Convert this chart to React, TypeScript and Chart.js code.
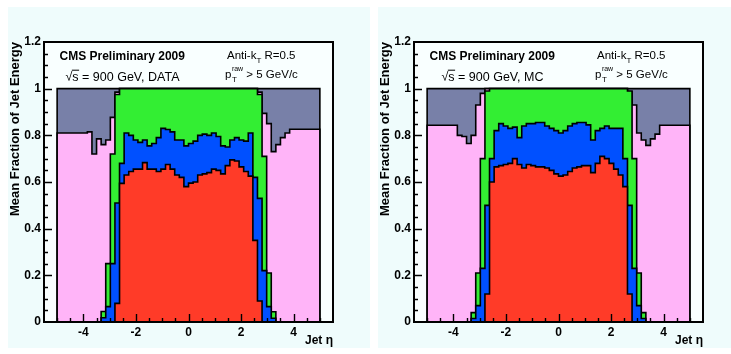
import React, { useEffect, useRef } from "react";
import { Chart, registerables } from "chart.js";

Chart.register(...registerables);

// ---------- data ----------
// jet eta bin edges (46 bins)
const etaEdges = [
  -5, -3.85, -3.675, -3.5, -3.325, -3.15, -2.975, -2.8, -2.625, -2.45, -2.275, -2.1,
  -1.925, -1.75, -1.575, -1.4, -1.225, -1.05, -0.875, -0.7, -0.525, -0.35, -0.175, 0,
  0.175, 0.35, 0.525, 0.7, 0.875, 1.05, 1.225, 1.4, 1.575, 1.75, 1.925, 2.1, 2.275,
  2.45, 2.625, 2.8, 2.975, 3.15, 3.325, 3.5, 3.675, 3.85, 5,
];

// Stacked histogram: upper edge of each layer (cumulative fraction), per bin
// DATA panel
const dataRedTop = [
  0, 0, 0, 0, 0, 0, 0, 0.08, 0.594, 0.63,
  0.645, 0.655, 0.655, 0.683, 0.655, 0.655, 0.645, 0.655, 0.675, 0.655,
  0.63, 0.62, 0.58, 0.595, 0.6, 0.63, 0.635, 0.64, 0.655, 0.65,
  0.635, 0.67, 0.695, 0.69, 0.665, 0.645, 0.625, 0.35, 0.09, 0,
  0, 0, 0, 0, 0, 0,
];
const dataBlueTop = [
  0, 0, 0, 0, 0.018, 0.066, 0.25, 0.51, 0.68, 0.81,
  0.8, 0.78, 0.77, 0.78, 0.755, 0.765, 0.79, 0.83, 0.825, 0.815,
  0.78, 0.78, 0.755, 0.765, 0.775, 0.8, 0.805, 0.8, 0.81, 0.795,
  0.755, 0.75, 0.78, 0.79, 0.78, 0.775, 0.81, 0.62, 0.53, 0.22,
  0.066, 0.016, 0, 0, 0, 0,
];
const dataGreenTop = [
  0, 0, 0, 0, 0.045, 0.25, 0.72, 0.975, 1, 1,
  1, 1, 1, 1, 1, 1, 1, 1, 1, 1,
  1, 1, 1, 1, 1, 1, 1, 1, 1, 1,
  1, 1, 1, 1, 1, 1, 1, 1, 0.975, 0.71,
  0.21, 0.044, 0, 0, 0, 0,
];
const dataPinkTop = [
  0.81, 0.815, 0.72, 0.785, 0.76, 0.78, 0.877, 0.985, 1, 1,
  1, 1, 1, 1, 1, 1, 1, 1, 1, 1,
  1, 1, 1, 1, 1, 1, 1, 1, 1, 1,
  1, 1, 1, 1, 1, 1, 1, 1, 0.985, 0.894,
  0.85, 0.73, 0.76, 0.79, 0.81, 0.826,
];
const dataGrayTop = [
  1, 1, 1, 1, 1, 1, 1, 1, 1, 1,
  1, 1, 1, 1, 1, 1, 1, 1, 1, 1,
  1, 1, 1, 1, 1, 1, 1, 1, 1, 1,
  1, 1, 1, 1, 1, 1, 1, 1, 1, 1,
  1, 1, 1, 1, 1, 1,
];

// MC panel
const mcRedTop = [
  0, 0, 0, 0, 0, 0, 0, 0.12, 0.6, 0.665,
  0.67, 0.675, 0.68, 0.7, 0.675, 0.66, 0.675, 0.67, 0.665, 0.665,
  0.66, 0.65, 0.635, 0.625, 0.63, 0.645, 0.66, 0.665, 0.67, 0.67,
  0.64, 0.68, 0.71, 0.7, 0.68, 0.655, 0.63, 0.58, 0.12, 0,
  0, 0, 0, 0, 0, 0,
];
const mcBlueTop = [
  0, 0, 0, 0, 0.015, 0.07, 0.23, 0.5, 0.7, 0.82,
  0.85, 0.84, 0.83, 0.835, 0.79, 0.84, 0.85, 0.85, 0.855, 0.855,
  0.84, 0.83, 0.82, 0.81, 0.82, 0.84, 0.85, 0.855, 0.855, 0.845,
  0.78, 0.82, 0.83, 0.84, 0.83, 0.83, 0.83, 0.7, 0.5, 0.23,
  0.07, 0.015, 0, 0, 0, 0,
];
const mcGreenTop = [
  0, 0, 0, 0, 0.04, 0.21, 0.7, 0.99, 1, 1,
  1, 1, 1, 1, 1, 1, 1, 1, 1, 1,
  1, 1, 1, 1, 1, 1, 1, 1, 1, 1,
  1, 1, 1, 1, 1, 1, 1, 1, 0.99, 0.7,
  0.21, 0.04, 0, 0, 0, 0,
];
const mcPinkTop = [
  0.843, 0.8, 0.795, 0.765, 0.8, 0.93, 0.98, 1, 1, 1,
  1, 1, 1, 1, 1, 1, 1, 1, 1, 1,
  1, 1, 1, 1, 1, 1, 1, 1, 1, 1,
  1, 1, 1, 1, 1, 1, 1, 1, 0.985, 0.93,
  0.81, 0.78, 0.757, 0.785, 0.805, 0.843,
];
const mcGrayTop = [
  1, 1, 1, 1, 1, 1, 1, 1, 1, 1,
  1, 1, 1, 1, 1, 1, 1, 1, 1, 1,
  1, 1, 1, 1, 1, 1, 1, 1, 1, 1,
  1, 1, 1, 1, 1, 1, 1, 1, 1, 1,
  1, 1, 1, 1, 1, 1,
];

// axis ticks
const xLabelTicks = [-4, -2, 0, 2, 4];
const xTickMarks = [-5, -4.5, -4, -3.5, -3, -2.5, -2, -1.5, -1, -0.5, 0, 0.5, 1, 1.5, 2, 2.5, 3, 3.5, 4, 4.5, 5];
const yLabelTicks = [0, 0.2, 0.4, 0.6, 0.8, 1, 1.2];
const yTickMarks = [
  0.05, 0.1, 0.15, 0.2, 0.25, 0.3, 0.35, 0.4, 0.45, 0.5, 0.55, 0.6,
  0.65, 0.7, 0.75, 0.8, 0.85, 0.9, 0.95, 1, 1.05, 1.1, 1.15,
];

// ---------- style ----------
const FONT = '"Liberation Sans", Arial, Helvetica, sans-serif';
const PANEL_W = 362;
const PANEL_H = 341;
const PANEL_BG = "#effcfc";
const FRAME_BG = "#f9ffff";
const COLORS = {
  red: "#ff3b28",
  blue: "#0050ff",
  green: "#33ee33",
  pink: "#ffb4f8",
  gray: "#7880a8",
};

Chart.defaults.font.family = FONT;

function histPoints(values: number[]) {
  const pts = [{ x: etaEdges[0], y: 0 }];
  values.forEach((v, i) => pts.push({ x: etaEdges[i], y: v }));
  pts.push({ x: etaEdges[etaEdges.length - 1], y: 0 });
  return pts;
}

function layer(label: string, values: number[], color: string) {
  return {
    label,
    data: histPoints(values),
    stepped: "before" as const,
    fill: "origin",
    backgroundColor: color,
    borderColor: "#000",
    borderWidth: 1.6,
    pointRadius: 0,
    pointHoverRadius: 0,
    tension: 0,
  };
}

const rootFrame = {
  id: "rootFrame",
  beforeDatasetsDraw(chart: any) {
    const { ctx, chartArea: a } = chart;
    ctx.save();
    ctx.fillStyle = FRAME_BG;
    ctx.fillRect(a.left, a.top, a.right - a.left, a.bottom - a.top);
    ctx.restore();
  },
  afterDatasetsDraw(chart: any, _args: any, opts: any) {
    const { ctx, chartArea: a, scales } = chart;
    const xs = scales.x;
    const ys = scales.y;
    ctx.save();
    ctx.strokeStyle = "#000";
    ctx.lineWidth = 1.4;
    ctx.beginPath();
    xTickMarks.forEach((v) => {
      const px = Math.round(xs.getPixelForValue(v)) + 0.5;
      const len = xLabelTicks.includes(v) ? 8 : 4;
      ctx.moveTo(px, a.bottom);
      ctx.lineTo(px, a.bottom - len);
    });
    yTickMarks.forEach((v) => {
      const py = Math.round(ys.getPixelForValue(v)) + 0.5;
      const major = Math.abs(v * 5 - Math.round(v * 5)) < 1e-6;
      const len = major ? 8 : 4;
      ctx.moveTo(a.left, py);
      ctx.lineTo(a.left + len, py);
    });
    ctx.stroke();
    ctx.lineWidth = 2;
    ctx.strokeRect(a.left, a.top, a.right - a.left, a.bottom - a.top);

    // annotations
    ctx.fillStyle = "#000";
    ctx.textAlign = "left";
    ctx.textBaseline = "alphabetic";
    ctx.font = `bold 12px ${FONT}`;
    ctx.fillText("CMS Preliminary 2009", 51.5, 52.5);

    // sqrt(s) line
    let x = opts.sqrtLeft;
    const base = 73.7;
    ctx.font = `12.5px ${FONT}`;
    ctx.fillText("\u221A", x, base);
    const mRad = ctx.measureText("\u221A");
    const radTop = base - (mRad.actualBoundingBoxAscent || 10);
    x += mRad.width;
    ctx.fillText("s", x, base);
    const sw = ctx.measureText("s").width;
    ctx.lineWidth = 1;
    ctx.beginPath();
    ctx.moveTo(x - 0.5, radTop + 0.5);
    ctx.lineTo(x + sw + 0.5, radTop + 0.5);
    ctx.stroke();
    x += sw;
    ctx.fillText(` = 900 GeV, ${opts.sample}`, x, base);

    // Anti-kT R=0.5
    let ax = 219;
    const ab = 52;
    ctx.font = `11.5px ${FONT}`;
    ctx.fillText("Anti-k", ax, ab);
    ax += ctx.measureText("Anti-k").width;
    ctx.font = `8px ${FONT}`;
    ctx.fillText("T", ax, ab + 3.5);
    ax += ctx.measureText("T").width;
    ctx.font = `11.5px ${FONT}`;
    ctx.fillText(" R=0.5", ax, ab);

    // pT raw > 5 GeV/c
    let px = 217;
    const pb = 71.3;
    ctx.font = `11.5px ${FONT}`;
    ctx.fillText("p", px, pb);
    px += ctx.measureText("p").width + 0.5;
    ctx.font = `7px ${FONT}`;
    ctx.fillText("raw", px, pb - 7);
    const rw = ctx.measureText("raw").width;
    ctx.font = `8px ${FONT}`;
    ctx.fillText("T", px, pb + 3.5);
    const tw = ctx.measureText("T").width;
    px += Math.max(rw, tw);
    ctx.font = `11.5px ${FONT}`;
    ctx.fillText(" > 5 GeV/c", px, pb);
    ctx.restore();
  },
};

type PanelProps = {
  left: number;
  sample: string;
  sqrtLeft: number;
  red: number[];
  blue: number[];
  green: number[];
  pink: number[];
  gray: number[];
};

function HistPanel({ left, sample, sqrtLeft, red, blue, green, pink, gray }: PanelProps) {
  const ref = useRef<HTMLCanvasElement>(null);
  useEffect(() => {
    if (!ref.current) return;
    const tickFont = { weight: "bold" as const, size: 12, family: FONT };
    const chart = new Chart(ref.current, {
      type: "line",
      data: {
        datasets: [
          layer("red", red, COLORS.red),
          layer("blue", blue, COLORS.blue),
          layer("green", green, COLORS.green),
          layer("pink", pink, COLORS.pink),
          layer("gray", gray, COLORS.gray),
        ] as any,
      },
      options: {
        animation: false,
        responsive: false,
        devicePixelRatio: 1,
        events: [],
        layout: { padding: { left: 0, right: 37, top: 35, bottom: 0 } },
        plugins: {
          legend: { display: false },
          tooltip: { enabled: false },
          rootFrame: { sample, sqrtLeft },
        } as any,
        scales: {
          x: {
            type: "linear",
            min: -5.5,
            max: 5.5,
            position: "bottom",
            grid: { display: false, drawTicks: false },
            border: { display: false },
            afterBuildTicks: (s: any) => {
              s.ticks = xLabelTicks.map((v) => ({ value: v }));
            },
            afterFit: (s: any) => {
              s.height = 26;
            },
            ticks: {
              font: tickFont,
              color: "#000",
              padding: 3,
              maxRotation: 0,
              autoSkip: false,
              callback: (v: any) => String(v),
            },
            title: {
              display: true,
              text: "Jet \u03B7",
              align: "end",
              color: "#000",
              padding: 0,
              font: { weight: "bold", size: 12, family: FONT },
            },
          },
          y: {
            type: "linear",
            min: 0,
            max: 1.2,
            position: "left",
            grid: { display: false, drawTicks: false },
            border: { display: false },
            afterBuildTicks: (s: any) => {
              s.ticks = yLabelTicks.map((v) => ({ value: v }));
            },
            afterFit: (s: any) => {
              s.width = 36;
            },
            ticks: {
              font: tickFont,
              color: "#000",
              padding: 3,
              autoSkip: false,
              callback: (v: any) => String(Math.round(Number(v) * 10) / 10),
            },
            title: {
              display: true,
              text: "Mean Fraction of Jet Energy",
              align: "end",
              color: "#000",
              padding: 0,
              font: { weight: "bold", size: 13, family: FONT },
            },
          },
        },
      } as any,
      plugins: [rootFrame],
    });
    return () => chart.destroy();
  }, []);
  return (
    <div
      style={{
        position: "absolute",
        left,
        top: 7,
        width: PANEL_W,
        height: PANEL_H,
        background: PANEL_BG,
      }}
    >
      <canvas
        ref={ref}
        width={PANEL_W}
        height={PANEL_H}
        style={{ display: "block", width: PANEL_W, height: PANEL_H }}
      />
    </div>
  );
}

export default function App() {
  return (
    <div
      style={{
        position: "relative",
        width: 731,
        height: 354,
        overflow: "hidden",
        background: "#ffffff",
      }}
    >
      <style>{`html,body{margin:0;padding:0;overflow:hidden;background:#fff;}`}</style>
      <HistPanel
        left={8}
        sample="DATA"
        sqrtLeft={57.5}
        red={dataRedTop}
        blue={dataBlueTop}
        green={dataGreenTop}
        pink={dataPinkTop}
        gray={dataGrayTop}
      />
      <HistPanel
        left={378}
        sample="MC"
        sqrtLeft={63.5}
        red={mcRedTop}
        blue={mcBlueTop}
        green={mcGreenTop}
        pink={mcPinkTop}
        gray={mcGrayTop}
      />
    </div>
  );
}
